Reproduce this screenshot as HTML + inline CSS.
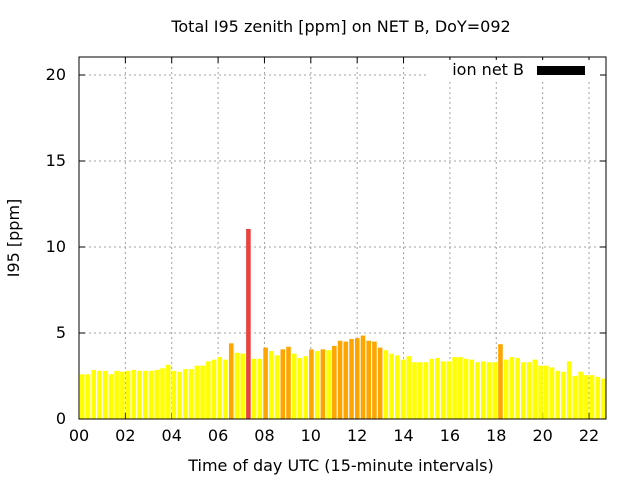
<!DOCTYPE html>
<html><head><meta charset="utf-8"><style>
body{margin:0;background:#fff}
svg text{font-family:"DejaVu Sans","Liberation Sans",sans-serif;font-size:16px;fill:#000}
</style></head><body>
<svg id="c" width="640" height="480"></svg>
<script>
const values=[2.6,2.6,2.85,2.8,2.8,2.6,2.8,2.75,2.8,2.85,2.8,2.8,2.8,2.85,2.95,3.15,2.8,2.75,2.9,2.9,3.1,3.1,3.35,3.45,3.6,3.45,4.4,3.85,3.8,11.05,3.5,3.5,4.15,3.95,3.7,4.05,4.2,3.8,3.55,3.65,4.05,3.95,4.05,4.0,4.25,4.55,4.5,4.65,4.7,4.85,4.55,4.5,4.15,4.0,3.8,3.7,3.45,3.65,3.3,3.3,3.3,3.5,3.55,3.35,3.35,3.6,3.6,3.5,3.45,3.3,3.35,3.3,3.3,4.35,3.45,3.6,3.55,3.3,3.3,3.45,3.1,3.1,3.0,2.8,2.75,3.35,2.5,2.75,2.55,2.55,2.45,2.35];
const xTicks=["00","02","04","06","08","10","12","14","16","18","20","22"];
const yTicks=[0,5,10,15,20];
const L=79,R=606,T=57,B=419;
const xmax=(R-L)/(510/22);
const X=h=>L+h*(510/22);
const Y=v=>B-v*(B-75)/20;
const s=document.getElementById('c');const NS="http://www.w3.org/2000/svg";
function el(t,a,p){const e=document.createElementNS(NS,t);for(const k in a)e.setAttribute(k,a[k]);(p||s).appendChild(e);return e;}
yTicks.forEach(v=>{if(v>0){const g=el('line',{x1:L,x2:R,y1:Y(v),y2:Y(v),stroke:'#a0a0a0','stroke-dasharray':'2,3'});

}
const t=el('text',{x:L-13,y:Y(v)+5,'text-anchor':'end'});t.textContent=v;


el('line',{x1:L,x2:L+6,y1:Y(v),y2:Y(v),stroke:'#000'});el('line',{x1:R,x2:R-6,y1:Y(v),y2:Y(v),stroke:'#000'});});
xTicks.forEach(lb=>{const h=+lb;const x=X(h);
if(h>0){const g=el('line',{x1:x,x2:x,y1:T,y2:B,stroke:'#a0a0a0','stroke-dasharray':'2,3'});

}
const t=el('text',{x:x,y:B+22,'text-anchor':'middle'});t.textContent=lb;


el('line',{x1:x,x2:x,y1:B,y2:B-6,stroke:'#000'});el('line',{x1:x,x2:x,y1:T,y2:T+6,stroke:'#000'});});
const pitch=xmax/values.length;
values.forEach((v,i)=>{const c=v>8?'#e8433f':(v>4?'#ffa500':'#ffff00');
const x0=X(i*pitch)+1,x1=X((i+0.8)*pitch)+1;
const r=el('rect',{x:x0,y:Y(v),width:x1-x0,height:B-Y(v),fill:c});

});
const f=el('rect',{x:L,y:T,width:R-L,height:B-T,fill:'none',stroke:'#000'});


function txt(str,a,name){const t=el('text',a);t.textContent=str;return t;}
txt('Total I95 zenith [ppm] on NET B, DoY=092',{x:341,y:32,'text-anchor':'middle'},'chart-title');
txt('Time of day UTC (15-minute intervals)',{x:341,y:471,'text-anchor':'middle'},'x-axis-title');
txt('I95 [ppm]',{x:19,y:238,'text-anchor':'middle',transform:'rotate(-90 19 238)'},'y-axis-title');
const lg=el('g',{});
el('rect',{x:428,y:60,width:172,height:20,fill:'#fff'},lg);
txt('ion net B',{x:524,y:75,'text-anchor':'end'},'legend-label');
el('rect',{x:537,y:66,width:48,height:9,fill:'#000'},lg);
</script>
</body></html>
